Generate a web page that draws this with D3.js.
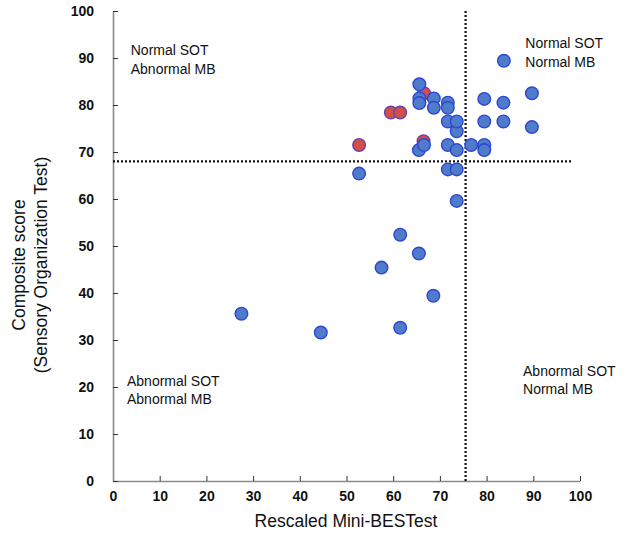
<!DOCTYPE html>
<html>
<head>
<meta charset="utf-8">
<script src="https://cdn.jsdelivr.net/npm/d3@7"></script>
<style>
  html, body { margin: 0; padding: 0; background: #fff; }
  svg { display: block; font-family: "Liberation Sans", Arial, sans-serif; }
</style>
</head>
<body>
<svg id="chart" width="629" height="534"></svg>
<script>
// ---- data ----
const xTicks = [0, 10, 20, 30, 40, 50, 60, 70, 80, 90, 100];
const yTicks = [0, 10, 20, 30, 40, 50, 60, 70, 80, 90, 100];

// Normal-coloured (blue) participants: [Mini-BESTest, SOT composite]
const blueX = [27.5, 44.5, 57.5, 61.5, 65.5, 68.6, 61.5, 52.7, 65.5, 66.6, 71.7, 73.6, 73.6, 76.7, 79.5, 79.5, 71.7, 73.6, 73.6,
               65.6, 65.6, 65.6, 68.7, 68.7, 71.7, 71.7, 71.7, 73.6, 79.5, 83.6, 79.5, 83.6, 89.7, 89.7, 83.7];
const blueY = [35.6, 31.6, 45.4, 52.4, 48.4, 39.4, 32.6, 65.4, 70.4, 71.5, 71.5, 70.4, 74.4, 71.5, 71.5, 70.4, 66.3, 66.3, 59.6,
               84.4, 81.4, 80.4, 81.4, 79.4, 80.5, 79.4, 76.5, 76.5, 81.3, 80.5, 76.5, 76.5, 82.5, 75.3, 89.4];
// Red-highlighted participants
const redX = [52.7, 59.5, 61.5, 66.6, 66.5];
const redY = [71.5, 78.4, 78.4, 82.5, 72.3];

// cut-offs
const cutX = 75.5;   // Mini-BESTest cut-off
const cutY = 68;     // SOT composite cut-off

const quadrantLabels = [
  { lines: ["Normal SOT", "Abnormal MB"], x: 3.8, y: 90.6 },
  { lines: ["Normal SOT", "Normal MB"], x: 88.3, y: 92.1 },
  { lines: ["Abnormal SOT", "Abnormal MB"], x: 3, y: 20.3 },
  { lines: ["Abnormal SOT", "Normal MB"], x: 87.8, y: 22.4 }
];

// ---- layout ----
const svg = d3.select("#chart");
const x = d3.scaleLinear().domain([0, 100]).range([113, 580]);
const y = d3.scaleLinear().domain([0, 100]).range([481, 11]);

const axisColor = "#8a8a8a";

// X axis
const gx = svg.append("g").attr("transform", `translate(0,${y(0)})`)
  .call(d3.axisBottom(x).tickValues(xTicks).tickSizeInner(-5).tickSizeOuter(0).tickPadding(10));
gx.select(".domain").attr("stroke", axisColor).attr("stroke-width", 1.6);
gx.selectAll(".tick line").attr("stroke", "#333").attr("stroke-width", 1);
gx.selectAll(".tick text").attr("font-size", 14).attr("font-weight", "bold").attr("fill", "#111")
  .attr("font-family", "Liberation Sans, Arial, sans-serif");

// Y axis
const gy = svg.append("g").attr("transform", `translate(${x(0)},0)`)
  .call(d3.axisLeft(y).tickValues(yTicks).tickSizeInner(-5).tickSizeOuter(0).tickPadding(19));
gy.select(".domain").attr("stroke", axisColor).attr("stroke-width", 1.6);
gy.selectAll(".tick line").attr("stroke", "#333").attr("stroke-width", 1);
gy.selectAll(".tick text").attr("font-size", 14).attr("font-weight", "bold").attr("fill", "#111")
  .attr("font-family", "Liberation Sans, Arial, sans-serif");

// cut-off lines
svg.append("line")
  .attr("x1", x(0)).attr("x2", x(98.5)).attr("y1", y(cutY)).attr("y2", y(cutY))
  .attr("stroke", "#111").attr("stroke-width", 2.2).attr("stroke-dasharray", "2,2");
svg.append("line")
  .attr("x1", x(cutX)).attr("x2", x(cutX)).attr("y1", y(100)).attr("y2", y(0))
  .attr("stroke", "#111").attr("stroke-width", 2.2).attr("stroke-dasharray", "2,2");

// points: red first, blue on top
const redData = redX.map((v, i) => [v, redY[i]]);
const blueData = blueX.map((v, i) => [v, blueY[i]]);

svg.append("g").selectAll("circle").data(redData).join("circle")
  .attr("cx", d => x(d[0])).attr("cy", d => y(d[1])).attr("r", 6.3)
  .attr("fill", "#d24f45").attr("stroke", "#6a3fb0").attr("stroke-width", 1.4);

svg.append("g").selectAll("circle").data(blueData).join("circle")
  .attr("cx", d => x(d[0])).attr("cy", d => y(d[1])).attr("r", 6.3)
  .attr("fill", "#4f7cc9").attr("stroke", "#2f45d6").attr("stroke-width", 1.4);

// quadrant labels
quadrantLabels.forEach(q => {
  const t = svg.append("text").attr("x", x(q.x)).attr("y", y(q.y))
    .attr("font-size", 14).attr("fill", "#111").attr("text-anchor", "start");
  q.lines.forEach((l, i) => {
    t.append("tspan").attr("x", x(q.x)).attr("dy", i === 0 ? 0 : 18.5).text(l);
  });
});

// axis titles
svg.append("text").attr("x", 346).attr("y", 527).attr("text-anchor", "middle")
  .attr("font-size", 17.5).attr("fill", "#111").text("Rescaled Mini-BESTest");

const yt = svg.append("text").attr("transform", "translate(0,265) rotate(-90)")
  .attr("text-anchor", "middle").attr("font-size", 17.5).attr("fill", "#111");
yt.append("tspan").attr("x", 0).attr("y", 25).text("Composite score");
yt.append("tspan").attr("x", 0).attr("y", 47).text("(Sensory Organization Test)");
</script>
</body>
</html>
